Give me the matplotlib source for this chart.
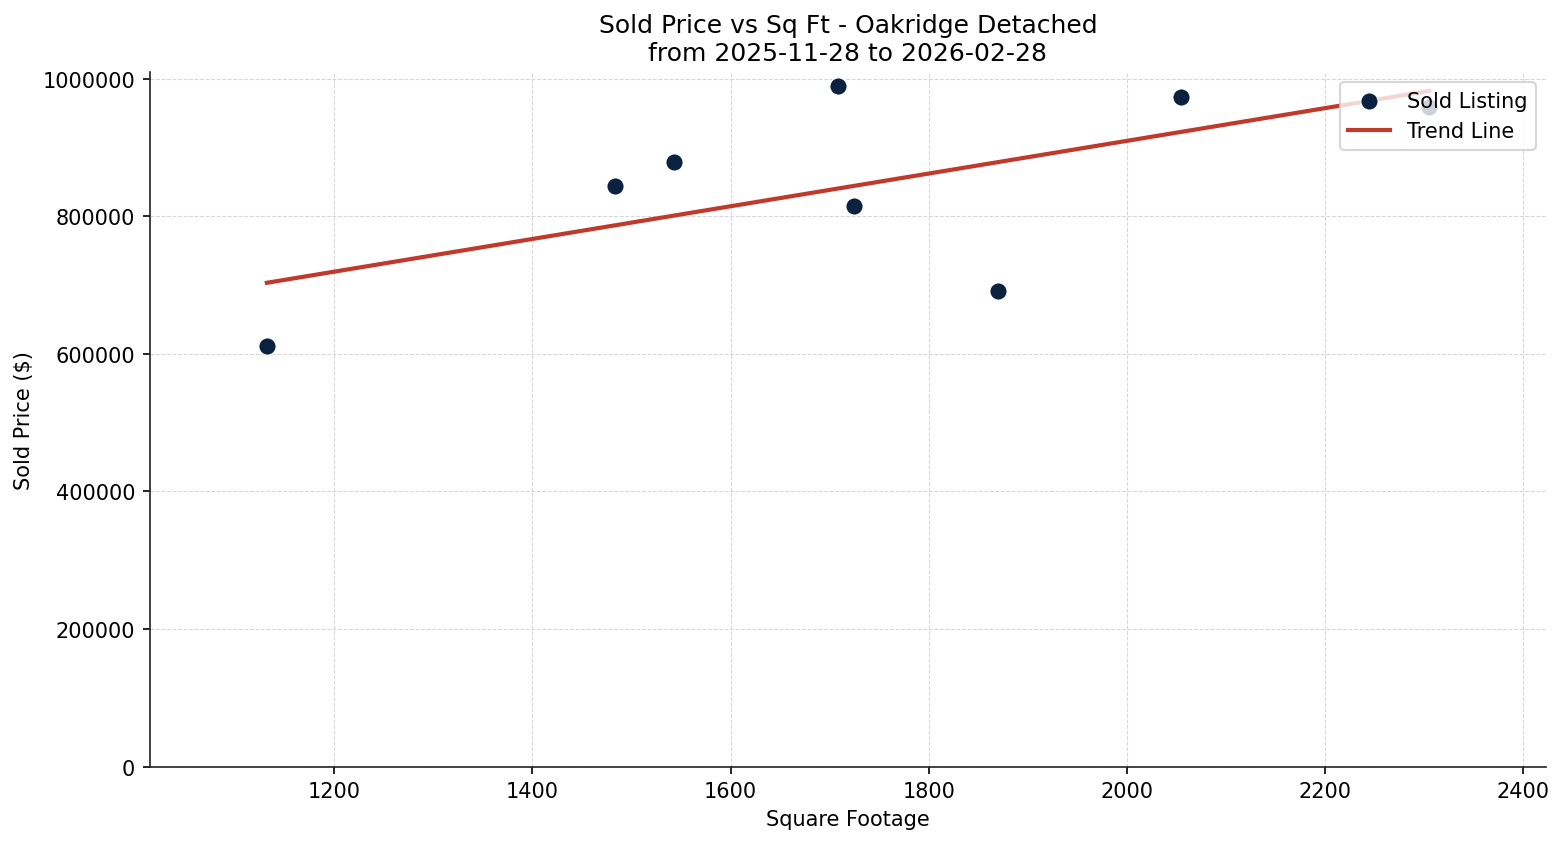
import matplotlib.pyplot as plt
import numpy as np

# Sold listings (square footage, sold price)
sqft = np.array([1132, 1483, 1543, 1708, 1725, 1870, 2055, 2305])
price = np.array([611000, 844000, 879000, 989000, 815000, 691000, 973000, 959000])

title = "Sold Price vs Sq Ft - Oakridge Detached\nfrom 2025-11-28 to 2026-02-28"

fig, ax = plt.subplots(figsize=(15.65 / 1.5, 8.45 / 1.5), dpi=150)
fig.subplots_adjust(left=0.0958, right=0.9879, top=0.9136, bottom=0.0917)

ax.scatter(sqft, price, s=68, color="#0a2240", edgecolor="white",
           linewidth=0.5, label="Sold Listing", zorder=3)

# least squares trend
slope, intercept = np.polyfit(sqft, price, 1)
xs = np.array([sqft.min(), sqft.max()])
ax.plot(xs, slope * xs + intercept, color="#c0392b", linewidth=2,
        label="Trend Line", zorder=4)

ax.set_xlim(1014, 2423)
ax.set_ylim(0, 1010000)
ax.set_xticks([1200, 1400, 1600, 1800, 2000, 2200, 2400])
ax.set_yticks([0, 200000, 400000, 600000, 800000, 1000000])
ax.ticklabel_format(style="plain", axis="y", useOffset=False)

ax.set_title(title, fontsize=12)
ax.set_xlabel("Square Footage")
ax.set_ylabel("Sold Price ($)")
ax.grid(True, linestyle="--", linewidth=0.5, color="#cccccc", alpha=0.8)
ax.set_axisbelow(True)

for side in ["top", "right"]:
    ax.spines[side].set_visible(False)
for side in ["left", "bottom"]:
    ax.spines[side].set_color("#222222")

ax.legend(loc="upper right", framealpha=0.8)

fig.savefig("out.png", dpi=150)
